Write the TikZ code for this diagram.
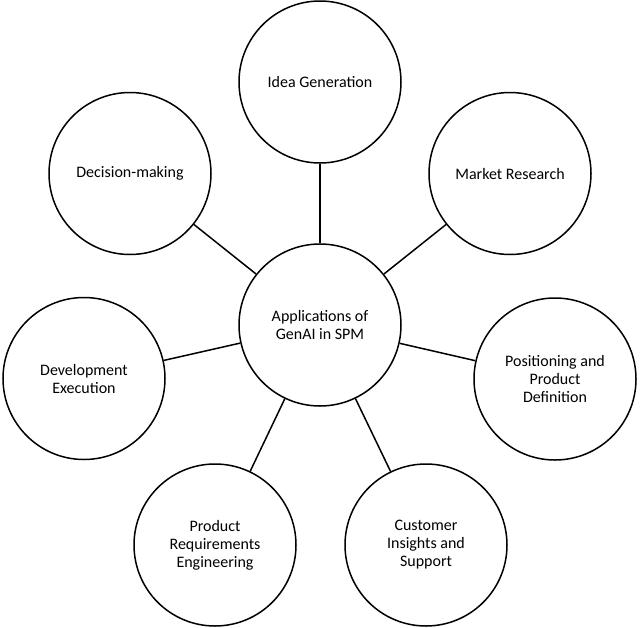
\documentclass[tikz,border=0pt]{standalone}
\usepackage{fontspec}
\setmainfont{Carlito}
\begin{document}
\begin{tikzpicture}[x=1pt,y=-1pt,
  bubble/.style={circle, draw=black, line width=1.5pt, fill=white, minimum size=162pt, inner sep=0pt,
    align=center, font=\fontsize{16}{18}\selectfont, text=black},
  link/.style={draw=black, line width=1.5pt}]
\useasboundingbox (0,0) rectangle (640,627);
\node[bubble] (c) at (320,325) {Applications of\\GenAI in SPM};
\node[bubble] (idea) at (320,82) {Idea Generation};
\node[bubble] (mr) at (510,173.5) {Market Research};
\node[bubble] (pos) at (555,379) {Positioning and\\Product\\Definition};
\node[bubble] (cis) at (426,545) {Customer\\Insights and\\Support};
\node[bubble] (pre) at (215,545) {Product\\Requirements\\Engineering};
\node[bubble] (dev) at (84,378.5) {Development\\Execution};
\node[bubble] (dm) at (130,173.5) {Decision-making};
\foreach \n in {idea,mr,pos,cis,pre,dev,dm}
  \draw[link] (c) -- (\n);
\end{tikzpicture}
\end{document}
